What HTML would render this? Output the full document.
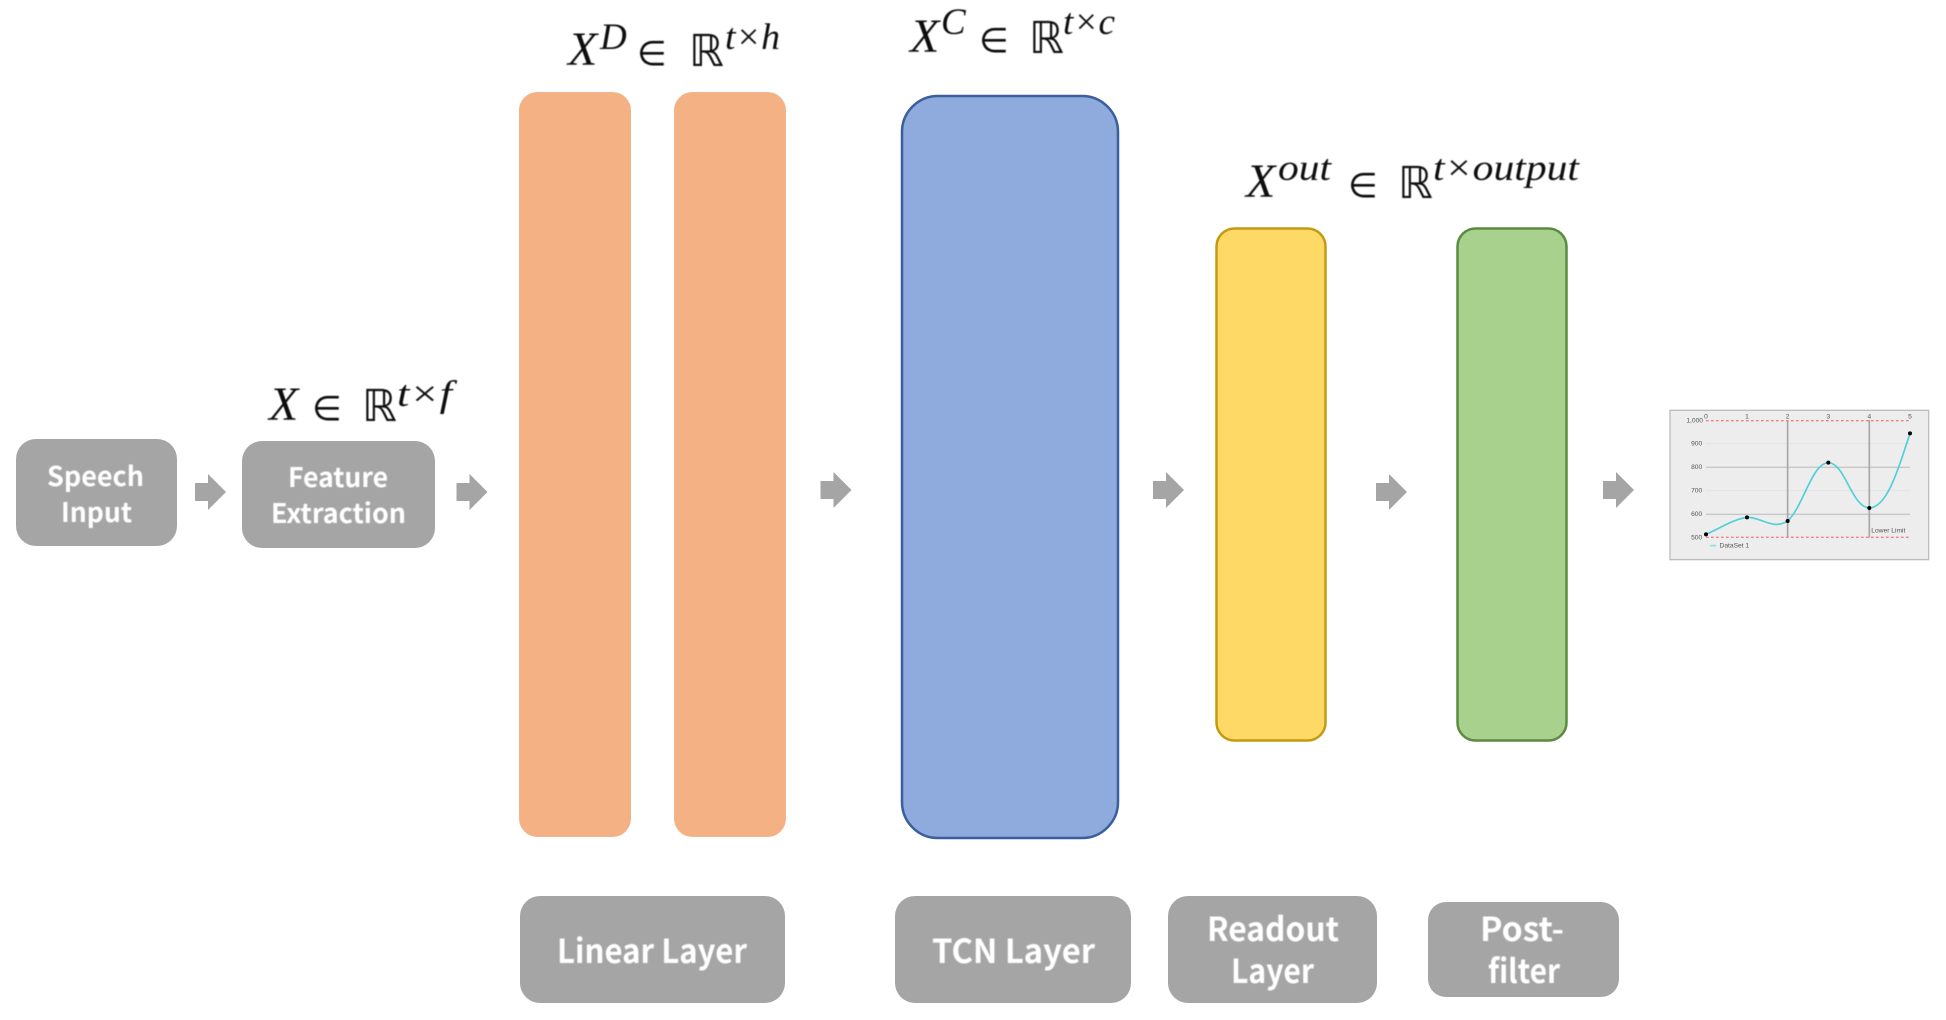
<!DOCTYPE html>
<html><head><meta charset="utf-8"><style>
html,body{margin:0;padding:0;background:#fff;width:1946px;height:1020px;overflow:hidden}
svg{display:block}
.l{font-family:"Noto Sans CJK SC","Liberation Sans",sans-serif;font-weight:700;fill:#fff;font-size:27px}
.b{font-size:33px}
.m{font-family:"Liberation Serif","DejaVu Serif",serif;font-style:italic;fill:#111;font-size:48px}
.s{font-family:"Liberation Serif","DejaVu Serif",serif;font-style:italic;fill:#111;font-size:37px}
.r{font-family:"DejaVu Sans","Liberation Serif",serif;fill:#111;font-size:44px}
.e{font-family:"DejaVu Sans","Liberation Serif",serif;fill:#111;font-size:34px}
.c{font-family:"Liberation Sans",sans-serif;fill:#555;font-size:26px}
</style></head><body>
<svg width="1946" height="1020" viewBox="0 0 1946 1020" xmlns="http://www.w3.org/2000/svg">
<defs><filter id="f" x="-5%" y="-5%" width="110%" height="110%"><feGaussianBlur stdDeviation="0.9"/></filter>
<filter id="g" x="-5%" y="-5%" width="110%" height="110%"><feGaussianBlur stdDeviation="0.45"/></filter></defs>
<g fill="#A5A5A5">
<rect x="16" y="439" width="161" height="107" rx="20"/>
<rect x="242" y="441" width="193" height="107" rx="20"/>
<rect x="520" y="896" width="265" height="107" rx="20"/>
<rect x="895" y="896" width="236" height="107" rx="20"/>
<rect x="1168" y="896" width="209" height="107" rx="20"/>
<rect x="1428" y="902" width="191" height="95" rx="18"/>
<path d="M195 483h13v-9l18 18-18 18v-9h-13z"/>
<path d="M456.500 483h13v-9l18 18-18 18v-9h-13z"/>
<path d="M820.500 481h13v-9l18 18-18 18v-9h-13z"/>
<path d="M1153 481h13v-9l18 18-18 18v-9h-13z"/>
<path d="M1376 483h13v-9l18 18-18 18v-9h-13z"/>
<path d="M1603 481h13v-9l18 18-18 18v-9h-13z"/>
</g>
<rect x="519.500" y="92.500" width="111" height="744" rx="18" fill="#F4B183" stroke="#F2B48A"/>
<rect x="674.500" y="92.500" width="111" height="744" rx="18" fill="#F4B183" stroke="#F2B48A"/>
<rect x="902" y="96" width="216" height="742" rx="36" fill="#8FAADC" stroke="#3A5E9E" stroke-width="2.500"/>
<rect x="1216.500" y="228.500" width="109" height="512" rx="18" fill="#FFD966" stroke="#C49A12" stroke-width="2.500"/>
<rect x="1457.500" y="228.500" width="109" height="512" rx="18" fill="#A9D18E" stroke="#5D8A40" stroke-width="2.500"/>
<g class="l" filter="url(#g)">
<text x="47" y="486" textLength="97" lengthAdjust="spacingAndGlyphs">Speech</text>
<text x="61" y="522" textLength="71" lengthAdjust="spacingAndGlyphs">Input</text>
<text x="288" y="487" textLength="100" lengthAdjust="spacingAndGlyphs">Feature</text>
<text x="271" y="523" textLength="135" lengthAdjust="spacingAndGlyphs">Extraction</text>
<text class="l b" x="557" y="963" textLength="190" lengthAdjust="spacingAndGlyphs">Linear Layer</text>
<text class="l b" x="932" y="963" textLength="163" lengthAdjust="spacingAndGlyphs">TCN Layer</text>
<text class="l b" x="1207" y="941" textLength="132" lengthAdjust="spacingAndGlyphs">Readout</text>
<text class="l b" x="1231" y="983" textLength="83" lengthAdjust="spacingAndGlyphs">Layer</text>
<text class="l b" x="1480" y="941" textLength="84" lengthAdjust="spacingAndGlyphs">Post-</text>
<text class="l b" x="1488" y="983" textLength="72" lengthAdjust="spacingAndGlyphs">filter</text>
</g>
<g filter="url(#g)">
<text class="m" x="269" y="420">X</text><text class="e" x="312" y="420">∈</text><text class="r" x="362" y="421">ℝ</text><text class="s" x="397" y="406" textLength="55" lengthAdjust="spacingAndGlyphs">t×f</text>
<text class="m" x="568" y="65">X</text><text class="s" x="600" y="49">D</text><text class="e" x="637" y="65">∈</text><text class="r" x="689" y="66">ℝ</text><text class="s" x="725" y="49" textLength="55" lengthAdjust="spacingAndGlyphs">t×h</text>
<text class="m" x="910" y="52">X</text><text class="s" x="941" y="34">C</text><text class="e" x="979" y="52">∈</text><text class="r" x="1029" y="53">ℝ</text><text class="s" x="1063" y="34" textLength="52" lengthAdjust="spacingAndGlyphs">t×c</text>
<text class="m" x="1246" y="197">X</text><text class="s" x="1278" y="180" textLength="53" lengthAdjust="spacingAndGlyphs">out</text><text class="e" x="1348" y="197">∈</text><text class="r" x="1398" y="198">ℝ</text><text class="s" x="1433" y="180" textLength="146" lengthAdjust="spacingAndGlyphs">t×output</text>
</g>
<g transform="translate(1660,400) scale(.3333,.3333)" filter="url(#f)">
<rect x="30" y="31" width="776" height="448" fill="#EDEDED" stroke="#BDBDBD" stroke-width="4"/>
<g stroke="#C8C8C8" stroke-width="4"><path d="M138 202H750M138 343H750"/></g>
<path d="M138 131H750M138 272H750" stroke="#E2E2E2" stroke-width="3"/>
<path d="M383 60V412M628 60V412" stroke="#A8A8A8" stroke-width="5"/>
<path d="M138 62H750M138 412H750" stroke="#F08080" stroke-width="4" stroke-dasharray="8 7"/>
<path d="M138 403C180 385 220 358 261 352C300 350 340 392 383 363C430 320 455 190 505 188C555 188 575 322 628 324C685 322 720 190 750 100" fill="none" stroke="#4FD0D8" stroke-width="5"/>
<g fill="#000"><circle cx="138" cy="403" r="6"/><circle cx="261" cy="352" r="6"/><circle cx="383" cy="363" r="6"/><circle cx="505" cy="188" r="6"/><circle cx="628" cy="324" r="6"/><circle cx="750" cy="100" r="6"/></g>
<g class="c" text-anchor="middle" style="font-size:20px">
<text x="138" y="55">0</text><text x="261" y="55">1</text><text x="383" y="55">2</text><text x="505" y="55">3</text><text x="628" y="55">4</text><text x="750" y="55">5</text>
<text x="104" y="67">1,000</text><text x="110" y="137">900</text><text x="110" y="207">800</text><text x="110" y="278">700</text><text x="110" y="348">600</text><text x="110" y="418">500</text>
<text x="685" y="397">Lower Limit</text><text x="223" y="443">DataSet 1</text></g>
<path d="M150 437H168" stroke="#8FE0E6" stroke-width="5"/>
</g>
</svg>
</body></html>
